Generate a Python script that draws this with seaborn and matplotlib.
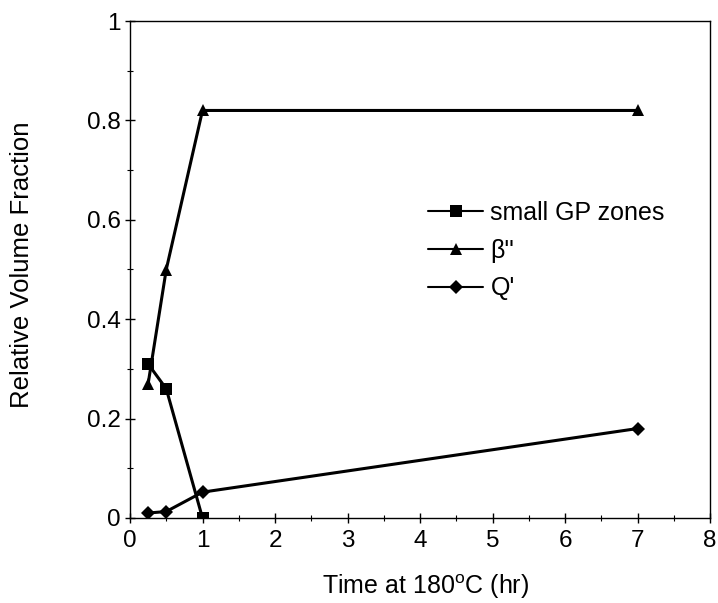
import numpy as np
import pandas as pd
import matplotlib
matplotlib.use("Agg")
import matplotlib.pyplot as plt
from matplotlib.ticker import MultipleLocator
import seaborn as sns

# values
phases = ["small GP zones", "\u03b2''", "Q'"]
time_gp = [0.25, 0.5, 1]
frac_gp = [0.31, 0.26, 0.0]
time_beta = [0.25, 0.5, 1, 7]
frac_beta = [0.27, 0.50, 0.82, 0.82]
time_q = [0.25, 0.5, 1, 7]
frac_q = [0.01, 0.013, 0.052, 0.18]

x_ticks = [0, 1, 2, 3, 4, 5, 6, 7, 8]
y_ticks = [0, 0.2, 0.4, 0.6, 0.8, 1]
y_tick_labels = ["0", "0.2", "0.4", "0.6", "0.8", "1"]

df = pd.concat([
    pd.DataFrame({"time": time_gp, "frac": frac_gp, "phase": phases[0]}),
    pd.DataFrame({"time": time_beta, "frac": frac_beta, "phase": phases[1]}),
    pd.DataFrame({"time": time_q, "frac": frac_q, "phase": phases[2]}),
], ignore_index=True)

sns.set_style("white")
plt.rcParams["font.family"] = ["Liberation Sans", "DejaVu Sans"]
plt.rcParams["mathtext.fontset"] = "custom"
plt.rcParams["mathtext.rm"] = "Liberation Sans"
plt.rcParams["text.color"] = "black"
plt.rcParams["axes.labelcolor"] = "black"
plt.rcParams["xtick.color"] = "black"
plt.rcParams["ytick.color"] = "black"

fig = plt.figure(figsize=(7.18, 6.03), dpi=100)
ax = fig.add_axes([130 / 718, 1 - 518 / 603, 580 / 718, 497 / 603])

markers = {phases[0]: "s", phases[1]: "^", phases[2]: "D"}
sizes = {phases[0]: 8, phases[1]: 9, phases[2]: 7}
for ph in phases:
    sub = df[df["phase"] == ph]
    sns.lineplot(data=sub, x="time", y="frac", ax=ax, color="black",
                 marker=markers[ph], markersize=sizes[ph], markeredgewidth=0,
                 linewidth=2.2, label=ph, sort=False)

ax.set_xlim(0, 8)
ax.set_ylim(0, 1)
ax.set_xticks(x_ticks)
ax.set_yticks(y_ticks)
ax.set_yticklabels(y_tick_labels)
ax.xaxis.set_minor_locator(MultipleLocator(0.5))
ax.yaxis.set_minor_locator(MultipleLocator(0.1))
ax.tick_params(which="both", bottom=True, left=True, top=False, right=False)
ax.tick_params(which="major", direction="inout", length=7, width=1, labelsize=17.5,
               color="black", labelcolor="black", pad=3)
ax.tick_params(which="minor", direction="inout", length=4, width=0.8, color="black")
ax.tick_params(axis="x", which="major", pad=5)

for s in ax.spines.values():
    s.set_color("black")
    s.set_linewidth(1.0)
    s.set_visible(True)

ax.set_xlabel("Time at 180$^{\\mathregular{o}}$C (hr)", fontsize=18)
ax.set_ylabel("Relative Volume Fraction", fontsize=18.5)
ax.xaxis.set_label_coords(0.51, -0.11)
ax.yaxis.set_label_coords(-0.165, 0.51)

leg = ax.legend(loc="upper left", bbox_to_anchor=(428 / 718, 1 - 201 / 603),
                bbox_transform=fig.transFigure, frameon=False, fontsize=18,
                handlelength=2.2, handletextpad=0.3, labelspacing=0.55,
                borderpad=0, borderaxespad=0)
for line in leg.get_lines():
    line.set_linewidth(1.5)

fig.savefig("out.png", dpi=100)
